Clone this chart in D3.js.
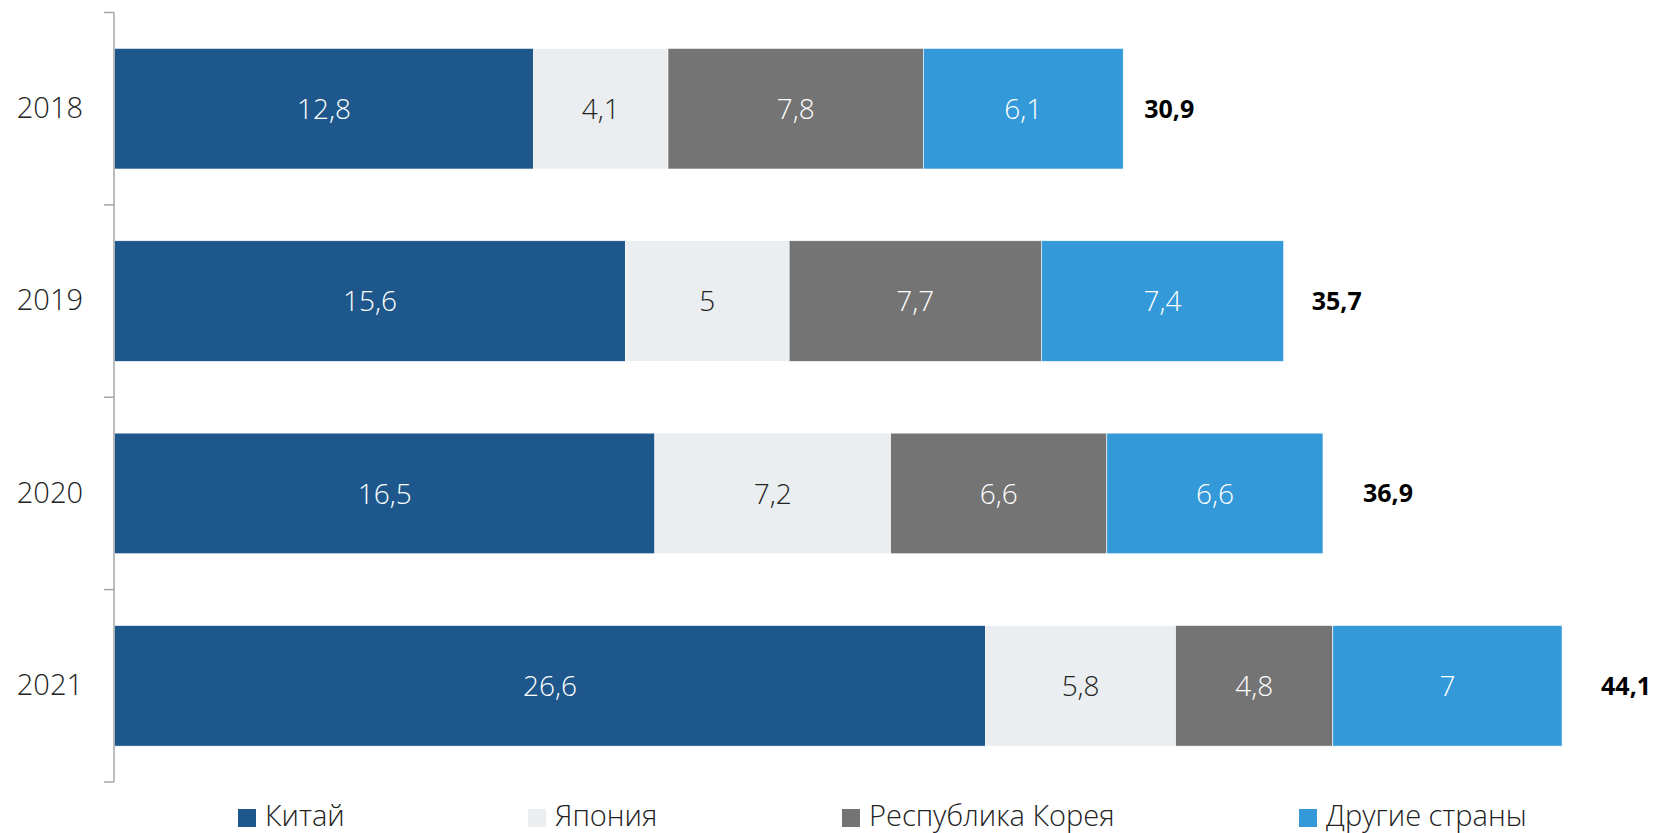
<!DOCTYPE html>
<html>
<head>
<meta charset="utf-8">
<script src="https://cdn.jsdelivr.net/npm/d3@7"></script>
<style>
  body { margin: 0; background: #fff; }
  svg { display: block; font-family: "Open Sans", sans-serif; }
</style>
</head>
<body>
<svg id="chart" width="1657" height="833"></svg>
<script>
var years = ["2018", "2019", "2020", "2021"];
var seriesNames = ["Китай", "Япония", "Республика Корея", "Другие страны"];
var china = [12.8, 15.6, 16.5, 26.6];
var japan = [4.1, 5, 7.2, 5.8];
var korea = [7.8, 7.7, 6.6, 4.8];
var others = [6.1, 7.4, 6.6, 7];
var totals = ["30,9", "35,7", "36,9", "44,1"];

var colors = ["#1d578b", "#eaeef0", "#747474", "#3399d9"];
var textColors = ["#fff", "#222", "#fff", "#fff"];

var svg = d3.select('#chart');

var rows = years.map(function (y, i) {
    return {year: y, china: china[i], japan: japan[i], korea: korea[i], others: others[i], total: totals[i]};
});
var keys = ["china", "japan", "korea", "others"];

var layers = d3.stack().keys(keys)(rows);

var x = d3.scaleLinear()
    .domain([0, 47])
    .range([114.5, 114.5 + 47 * 32.75]);

var y = d3.scaleBand()
    .domain(years)
    .range([12.5, 782])
    .paddingInner(0.373)
    .paddingOuter(0.1865);

var fmt = function (v) { return String(+v.toFixed(1)).replace('.', ','); };

// bars
var layer = svg.selectAll('g.layer')
    .data(layers)
    .enter()
    .append('g')
    .attr('class', 'layer');

layer.selectAll('rect')
    .data(function (d, i) { return d.map(function (p) { return {p: p, k: i}; }); })
    .enter()
    .append('rect')
    .attr('x', function (d) { return x(d.p[0]); })
    .attr('y', function (d) { return y(d.p.data.year); })
    .attr('width', function (d) { return x(d.p[1]) - x(d.p[0]); })
    .attr('height', y.bandwidth())
    .attr('fill', function (d) { return colors[d.k]; })
    .attr('stroke', '#fff')
    .attr('stroke-width', 0.6);

layer.selectAll('text')
    .data(function (d, i) { return d.map(function (p) { return {p: p, k: i}; }); })
    .enter()
    .append('text')
    .attr('x', function (d) { return (x(d.p[0]) + x(d.p[1])) / 2; })
    .attr('y', function (d) { return y(d.p.data.year) + y.bandwidth() / 2; })
    .attr('dy', '0.36em')
    .attr('text-anchor', 'middle')
    .attr('font-size', 28)
    .attr('font-weight', 300)
    .attr('fill', function (d) { return textColors[d.k]; })
    .text(function (d) { return fmt(d.p[1] - d.p[0]); });

// totals (gap after bar end differs a bit per row in the original)
var totalPad = [21, 28, 40, 39];
svg.selectAll('text.total')
    .data(layers[layers.length - 1])
    .enter()
    .append('text')
    .attr('class', 'total')
    .attr('x', function (d, i) { return x(d[1]) + totalPad[i]; })
    .attr('y', function (d) { return y(d.data.year) + y.bandwidth() / 2; })
    .attr('dy', '0.36em')
    .attr('font-size', 25)
    .attr('font-weight', 700)
    .attr('fill', '#000')
    .text(function (d) { return d.data.total; });

// y axis
var yAxis = svg.append('g')
    .attr('transform', 'translate(' + 114 + ',0)')
    .call(d3.axisLeft(y).tickSize(0).tickPadding(31));
yAxis.select('.domain').remove();
yAxis.selectAll('text')
    .attr('font-size', 29)
    .attr('font-weight', 300)
    .attr('font-family', '"Open Sans", sans-serif')
    .attr('fill', '#222');

var bounds = d3.range(years.length + 1).map(function (i) { return 12.5 + i * y.step(); });
svg.append('line')
    .attr('x1', 114).attr('x2', 114)
    .attr('y1', bounds[0]).attr('y2', bounds[bounds.length - 1])
    .attr('stroke', '#a6a6a6').attr('stroke-width', 1.5);
svg.selectAll('line.tick')
    .data(bounds)
    .enter()
    .append('line')
    .attr('class', 'tick')
    .attr('x1', 104).attr('x2', 114)
    .attr('y1', function (d) { return d; })
    .attr('y2', function (d) { return d; })
    .attr('stroke', '#a6a6a6').attr('stroke-width', 1.5);

// legend
var legendX = [238, 528, 842, 1299];
var legend = svg.selectAll('g.legend')
    .data(seriesNames)
    .enter()
    .append('g')
    .attr('class', 'legend')
    .attr('transform', function (d, i) { return 'translate(' + legendX[i] + ',809)'; });

legend.append('rect')
    .attr('width', 18).attr('height', 18)
    .attr('fill', function (d, i) { return colors[i]; });

legend.append('text')
    .attr('x', 27)
    .attr('y', 17)
    .attr('font-size', 29)
    .attr('font-weight', 300)
    .attr('fill', '#222')
    .text(function (d) { return d; });
</script>
</body>
</html>
